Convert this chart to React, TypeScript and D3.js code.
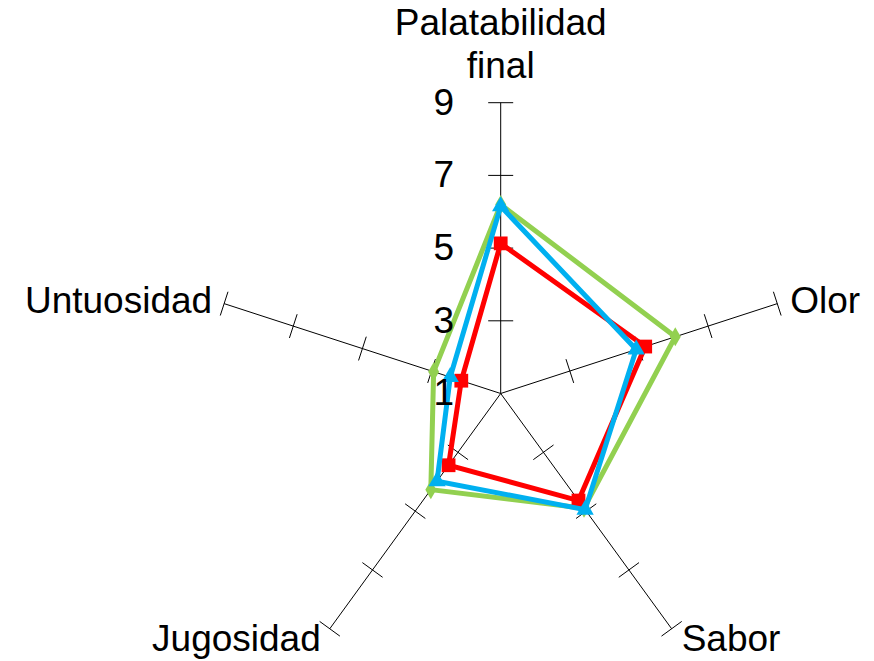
import * as d3 from 'd3';
import React from 'react';

// axis categories, clockwise from the top
const categories = ['Palatabilidad final', 'Olor', 'Sabor', 'Jugosidad', 'Untuosidad'];
const tickValues = [1, 3, 5, 7, 9];

// series values per category (same order as categories)
const greenValues = [6.2, 6.05, 4.9, 4.27, 2.94];
const redValues = [5.13, 5.18, 4.64, 3.44, 2.14];
const blueValues = [6.15, 4.92, 4.95, 3.98, 2.46];

const series = [
  { name: 'verde', values: greenValues, color: '#92D050', marker: 'diamond' },
  { name: 'rojo', values: redValues, color: '#FF0000', marker: 'square' },
  { name: 'azul', values: blueValues, color: '#00B0F0', marker: 'triangle' },
];

const W = 874;
const H = 661;
const cx = 500.7;
const cy = 393.5;
const R = 290.8;
const FONT = '"Liberation Sans", Arial, sans-serif';
const FS = 37;

export default function App() {
  const r = d3.scaleLinear().domain([1, 9]).range([0, R]);
  const angle = d3.scaleLinear().domain([0, categories.length]).range([0, 2 * Math.PI]);

  const pt = (i: number, v: number): [number, number] => {
    const a = angle(i);
    return [cx + r(v) * Math.sin(a), cy - r(v) * Math.cos(a)];
  };

  const line = d3.line<[number, number]>().curve(d3.curveLinearClosed);

  const symbolFor = (m: string) => {
    if (m === 'square') return d3.symbol(d3.symbolSquare, 190)();
    if (m === 'triangle') return d3.symbol(d3.symbolTriangle, 130)();
    return d3.symbol(d3.symbolDiamond, 105)();
  };

  // label placement relative to each axis end
  const labelFor = (i: number) => {
    const [ex, ey] = pt(i, 9);
    const a = angle(i);
    const sx = Math.sin(a);
    const cyv = Math.cos(a);
    if (Math.abs(sx) < 0.01) {
      const parts = categories[i].split(' ');
      return (
        <text key={'lab' + i} x={ex} textAnchor="middle" fontSize={FS} fontFamily={FONT} fill="#000">
          <tspan x={ex} y={ey - 68}>{parts[0]}</tspan>
          <tspan x={ex} y={ey - 25}>{parts[1]}</tspan>
        </text>
      );
    }
    const anchor = sx > 0 ? 'start' : 'end';
    const dx = sx > 0 ? (cyv > 0 ? 13 : 10) : (cyv > 0 ? -12 : -9);
    const dy = cyv > 0 ? 9 : 22;
    return (
      <text key={'lab' + i} x={ex + dx} y={ey + dy} textAnchor={anchor} fontSize={FS} fontFamily={FONT} fill="#000">
        {categories[i]}
      </text>
    );
  };

  return (
    <svg width={W} height={H} style={{ position: 'absolute', left: 0, top: 0, background: '#fff' }}>
      <rect width={W} height={H} fill="#fff" />
      {/* axes */}
      {categories.map((c, i) => {
        const [ex, ey] = pt(i, 9);
        const a = angle(i);
        const px = Math.cos(a);
        const py = Math.sin(a);
        return (
          <g key={'ax' + i}>
            <line x1={cx} y1={cy} x2={ex} y2={ey} stroke="#000" strokeWidth={1} />
            {tickValues.filter(t => t > 1).map(t => {
              const [tx, ty] = pt(i, t);
              return (
                <line key={t} x1={tx - px * 12.5} y1={ty - py * 12.5} x2={tx + px * 12.5} y2={ty + py * 12.5}
                  stroke="#000" strokeWidth={1} />
              );
            })}
          </g>
        );
      })}
      {/* series */}
      {series.map(s => {
        const pts = s.values.map((v, i) => pt(i, v));
        return (
          <g key={s.name}>
            <path d={line(pts) || ''} fill="none" stroke={s.color} strokeWidth={5} strokeLinejoin="miter" />
            {pts.map((p, i) => (
              <path key={i} d={symbolFor(s.marker) || ''} transform={`translate(${p[0]},${p[1]})`} fill={s.color} />
            ))}
          </g>
        );
      })}
      {/* tick labels on the top axis */}
      {tickValues.map(t => {
        const [, ty] = pt(0, t);
        return (
          <text key={'t' + t} x={454} y={ty} dy="0.32em" textAnchor="end" fontSize={FS} fontFamily={FONT} fill="#000">
            {t}
          </text>
        );
      })}
      {categories.map((c, i) => labelFor(i))}
    </svg>
  );
}
